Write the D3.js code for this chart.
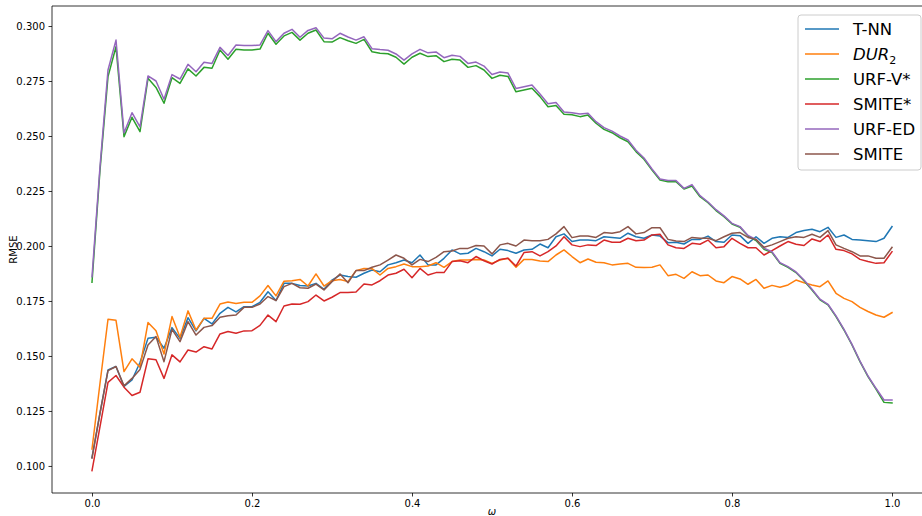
<!DOCTYPE html>
<html>
<head>
<meta charset="utf-8">
<script src="https://cdn.jsdelivr.net/npm/d3@7"></script>
<style>
  body { margin: 0; background: #fff; }
  svg { font-family: "DejaVu Sans", sans-serif; }
</style>
</head>
<body>
<div id="chart"></div>
<script>
// omega values 0.00 .. 1.00
const omega = d3.range(101).map(i => i / 100);

const seriesNames = ["T-NN", "DUR2", "URF-V*", "SMITE*", "URF-ED", "SMITE"];
const seriesColors = ["#1f77b4", "#ff7f0e", "#2ca02c", "#d62728", "#9467bd", "#8c564b"];

const tnn = [
  0.1039, 0.1240, 0.1436, 0.1452, 0.1361, 0.1391, 0.1470, 0.1580, 0.1585, 0.1535,
  0.1629, 0.1580, 0.1674, 0.1614, 0.1671, 0.1646, 0.1694, 0.1721, 0.1700, 0.1724,
  0.1724, 0.1744, 0.1792, 0.1752, 0.1830, 0.1830, 0.1820, 0.1818, 0.1830, 0.1803,
  0.1845, 0.1868, 0.1861, 0.1858, 0.1876, 0.1891, 0.1883, 0.1914, 0.1924, 0.1936,
  0.1924, 0.1959, 0.1914, 0.1914, 0.1944, 0.1982, 0.1964, 0.1967, 0.1989, 0.1974,
  0.1955, 0.1985, 0.1979, 0.1967, 0.1982, 0.1985, 0.2009, 0.1992, 0.2042, 0.2055,
  0.2020, 0.2027, 0.2027, 0.2024, 0.2042, 0.2039, 0.2035, 0.2058, 0.2042, 0.2035,
  0.2050, 0.2045, 0.2015, 0.2017, 0.2009, 0.2030, 0.2030, 0.2045, 0.2020, 0.2017,
  0.2050, 0.2047, 0.2012, 0.2042, 0.2012, 0.2035, 0.2042, 0.2039, 0.2061, 0.2070,
  0.2076, 0.2065, 0.2085, 0.2039, 0.2050, 0.2030, 0.2027, 0.2024, 0.2020, 0.2035,
  0.2088
];

const dur2 = [
  0.1077, 0.1376, 0.1667, 0.1662, 0.1429, 0.1487, 0.1449, 0.1652, 0.1615, 0.1509,
  0.1679, 0.1585, 0.1705, 0.1618, 0.1671, 0.1671, 0.1736, 0.1745, 0.1739, 0.1744,
  0.1744, 0.1773, 0.1820, 0.1773, 0.1840, 0.1842, 0.1848, 0.1818, 0.1873, 0.1818,
  0.1842, 0.1848, 0.1838, 0.1888, 0.1898, 0.1897, 0.1868, 0.1898, 0.1906, 0.1918,
  0.1906, 0.1906, 0.1909, 0.1924, 0.1903, 0.1929, 0.1936, 0.1936, 0.1939, 0.1936,
  0.1921, 0.1936, 0.1944, 0.1903, 0.1939, 0.1939, 0.1932, 0.1929, 0.1959, 0.1982,
  0.1952, 0.1924, 0.1941, 0.1926, 0.1924, 0.1914, 0.1918, 0.1921, 0.1903, 0.1902,
  0.1903, 0.1914, 0.1865, 0.1871, 0.1853, 0.1883, 0.1865, 0.1868, 0.1841, 0.1833,
  0.1861, 0.1850, 0.1826, 0.1848, 0.1808, 0.1821, 0.1812, 0.1823, 0.1845, 0.1833,
  0.1823, 0.1815, 0.1841, 0.1785, 0.1762, 0.1747, 0.1721, 0.1702, 0.1686, 0.1676,
  0.1697
];

const urfV = [
  0.1835, 0.2345, 0.2770, 0.2906, 0.2497, 0.2585, 0.2520, 0.2762, 0.2721, 0.2649,
  0.2765, 0.2739, 0.2805, 0.2773, 0.2812, 0.2808, 0.2891, 0.2849, 0.2894, 0.2891,
  0.2891, 0.2895, 0.2967, 0.2917, 0.2955, 0.2971, 0.2936, 0.2967, 0.2982, 0.2929,
  0.2927, 0.2947, 0.2933, 0.2921, 0.2939, 0.2883, 0.2876, 0.2874, 0.2858, 0.2827,
  0.2858, 0.2876, 0.2861, 0.2865, 0.2838, 0.2849, 0.2845, 0.2812, 0.2820, 0.2800,
  0.2762, 0.2776, 0.2771, 0.2701, 0.2709, 0.2717, 0.2679, 0.2633, 0.2639, 0.2599,
  0.2597, 0.2588, 0.2595, 0.2558, 0.2530, 0.2515, 0.2492, 0.2474, 0.2429, 0.2394,
  0.2345, 0.2300, 0.2292, 0.2292, 0.2259, 0.2273, 0.2224, 0.2197, 0.2161, 0.2133,
  0.2100, 0.2085, 0.2045, 0.2025, 0.1985, 0.1970, 0.1921, 0.1903, 0.1879, 0.1842,
  0.1800, 0.1755, 0.1732, 0.1679, 0.1618, 0.1550, 0.1474, 0.1406, 0.1349, 0.1289,
  0.1286
];

const smiteStar = [
  0.0979, 0.1179, 0.1380, 0.1411, 0.1358, 0.1320, 0.1335, 0.1487, 0.1483, 0.1398,
  0.1505, 0.1473, 0.1527, 0.1518, 0.1542, 0.1532, 0.1600, 0.1611, 0.1603, 0.1614,
  0.1615, 0.1639, 0.1686, 0.1656, 0.1727, 0.1736, 0.1735, 0.1747, 0.1777, 0.1750,
  0.1767, 0.1788, 0.1788, 0.1791, 0.1827, 0.1823, 0.1842, 0.1868, 0.1876, 0.1894,
  0.1856, 0.1898, 0.1868, 0.1879, 0.1879, 0.1929, 0.1933, 0.1924, 0.1952, 0.1933,
  0.1918, 0.1939, 0.1944, 0.1909, 0.1970, 0.1974, 0.1955, 0.1974, 0.2000, 0.2042,
  0.2005, 0.1997, 0.2005, 0.2002, 0.2027, 0.2017, 0.2017, 0.2035, 0.2024, 0.2027,
  0.2050, 0.2053, 0.2005, 0.1992, 0.1989, 0.2012, 0.2008, 0.2027, 0.1992, 0.1997,
  0.2035, 0.2012, 0.1992, 0.1992, 0.1959, 0.1979, 0.2000, 0.2020, 0.2008, 0.2002,
  0.2032, 0.2020, 0.2050, 0.1985, 0.1979, 0.1964, 0.1939, 0.1929, 0.1921, 0.1924,
  0.1974
];

const urfED = [
  0.1860, 0.2360, 0.2800, 0.2936, 0.2514, 0.2606, 0.2542, 0.2773, 0.2750, 0.2667,
  0.2779, 0.2759, 0.2826, 0.2792, 0.2835, 0.2830, 0.2903, 0.2866, 0.2914, 0.2911,
  0.2911, 0.2914, 0.2979, 0.2929, 0.2967, 0.2985, 0.2949, 0.2980, 0.2992, 0.2945,
  0.2942, 0.2967, 0.2950, 0.2936, 0.2951, 0.2897, 0.2893, 0.2890, 0.2873, 0.2845,
  0.2873, 0.2894, 0.2878, 0.2882, 0.2856, 0.2867, 0.2862, 0.2830, 0.2836, 0.2818,
  0.2780, 0.2791, 0.2786, 0.2716, 0.2724, 0.2732, 0.2691, 0.2647, 0.2652, 0.2609,
  0.2606, 0.2600, 0.2603, 0.2565, 0.2538, 0.2522, 0.2500, 0.2482, 0.2435, 0.2400,
  0.2350, 0.2305, 0.2298, 0.2298, 0.2262, 0.2279, 0.2229, 0.2200, 0.2165, 0.2137,
  0.2103, 0.2088, 0.2048, 0.2030, 0.1990, 0.1974, 0.1924, 0.1906, 0.1882, 0.1845,
  0.1803, 0.1758, 0.1735, 0.1682, 0.1621, 0.1553, 0.1477, 0.1409, 0.1353, 0.1300,
  0.1300
];

const smite = [
  0.1035, 0.1240, 0.1433, 0.1452, 0.1364, 0.1398, 0.1439, 0.1550, 0.1588, 0.1474,
  0.1621, 0.1565, 0.1656, 0.1595, 0.1630, 0.1638, 0.1676, 0.1683, 0.1686, 0.1721,
  0.1721, 0.1736, 0.1770, 0.1752, 0.1815, 0.1830, 0.1810, 0.1808, 0.1827, 0.1800,
  0.1838, 0.1873, 0.1833, 0.1888, 0.1888, 0.1903, 0.1914, 0.1936, 0.1959, 0.1944,
  0.1914, 0.1939, 0.1929, 0.1948, 0.1974, 0.1977, 0.1989, 0.1989, 0.2002, 0.2000,
  0.1964, 0.2005, 0.2012, 0.2000, 0.2027, 0.2024, 0.2024, 0.2030, 0.2055, 0.2088,
  0.2038, 0.2045, 0.2045, 0.2039, 0.2061, 0.2058, 0.2065, 0.2088, 0.2055, 0.2061,
  0.2083, 0.2083, 0.2030, 0.2023, 0.2020, 0.2039, 0.2035, 0.2035, 0.2024, 0.2042,
  0.2058, 0.2061, 0.2039, 0.2030, 0.1994, 0.2005, 0.2020, 0.2035, 0.2042, 0.2039,
  0.2053, 0.2039, 0.2070, 0.2005, 0.1989, 0.1974, 0.1955, 0.1955, 0.1944, 0.1944,
  0.1994
];

const xTicks = [0.0, 0.2, 0.4, 0.6, 0.8, 1.0];
const yTicks = [0.100, 0.125, 0.150, 0.175, 0.200, 0.225, 0.250, 0.275, 0.300];

const allSeries = [tnn, dur2, urfV, smiteStar, urfED, smite];

function drawChart() {
    const width = 922;
    const height = 516;
    const left = 52, top = 6, bottom = 493;

    const svg = d3.select("#chart")
        .append("svg")
        .attr("width", width)
        .attr("height", height);

    // scales (x axis runs past the picture edge, like the cropped original)
    const x = d3.scaleLinear().domain([-0.05, 1.05]).range([left, left + 880]);
    const y = d3.scaleLinear().domain([0.0877, 0.3091]).range([bottom, top]);

    // lines
    const line = d3.line()
        .x((d, i) => x(omega[i]))
        .y(d => y(d));

    svg.append("g")
        .selectAll("path")
        .data(allSeries)
        .join("path")
        .attr("d", d => line(d))
        .attr("fill", "none")
        .attr("stroke", (d, i) => seriesColors[i])
        .attr("stroke-width", 1.5)
        .attr("stroke-linejoin", "round")
        .attr("stroke-linecap", "square");

    // axes
    const xAxis = svg.append("g")
        .attr("transform", `translate(0,${bottom})`)
        .call(d3.axisBottom(x).tickValues(xTicks).tickFormat(d3.format(".1f")).tickSizeOuter(0).tickSize(3.5).tickPadding(3.5));
    const yAxis = svg.append("g")
        .attr("transform", `translate(${left},0)`)
        .call(d3.axisLeft(y).tickValues(yTicks).tickFormat(d3.format(".3f")).tickSizeOuter(0).tickSize(3.5).tickPadding(3.5));

    [xAxis, yAxis].forEach(g => {
        g.select(".domain").attr("stroke", "#000").attr("stroke-width", 0.8);
        g.selectAll(".tick line").attr("stroke", "#000").attr("stroke-width", 0.8);
        g.selectAll(".tick text").attr("fill", "#000").style("font-size", "10px").style("font-family", "DejaVu Sans");
    });
    xAxis.select(".domain").attr("d", `M${left},0H${width}`);
    yAxis.select(".domain").attr("d", `M0,${top}V${bottom}`);

    // top spine
    svg.append("line")
        .attr("x1", left).attr("x2", width)
        .attr("y1", top).attr("y2", top)
        .attr("stroke", "#000").attr("stroke-width", 0.8);

    // axis labels
    svg.append("text")
        .attr("x", x(0.5))
        .attr("y", 515)
        .attr("text-anchor", "middle")
        .style("font-size", "10px")
        .style("font-style", "italic")
        .text("ω");

    svg.append("text")
        .attr("transform", `translate(17,${(top + bottom) / 2}) rotate(-90)`)
        .attr("text-anchor", "middle")
        .style("font-size", "10px")
        .text("RMSE");

    // legend
    const legend = svg.append("g").attr("transform", "translate(798,15)");
    legend.append("rect")
        .attr("width", 123).attr("height", 155)
        .attr("rx", 3)
        .attr("fill", "#fff").attr("fill-opacity", 0.8)
        .attr("stroke", "#ccc");

    const items = legend.selectAll("g.item")
        .data(seriesNames)
        .join("g")
        .attr("class", "item")
        .attr("transform", (d, i) => `translate(0,${14 + i * 25})`);

    items.append("line")
        .attr("x1", 7).attr("x2", 41)
        .attr("stroke", (d, i) => seriesColors[i])
        .attr("stroke-width", 1.5);

    items.append("text")
        .attr("x", 55)
        .attr("dy", "0.35em")
        .style("font-size", "16.5px")
        .each(function(d) {
            const t = d3.select(this);
            if (d === "DUR2") {
                t.append("tspan").style("font-style", "italic").text("DUR");
                t.append("tspan").attr("dy", 4).style("font-size", "11px").text("2");
            } else {
                t.text(d);
            }
        });
}

drawChart();
</script>
</body>
</html>
